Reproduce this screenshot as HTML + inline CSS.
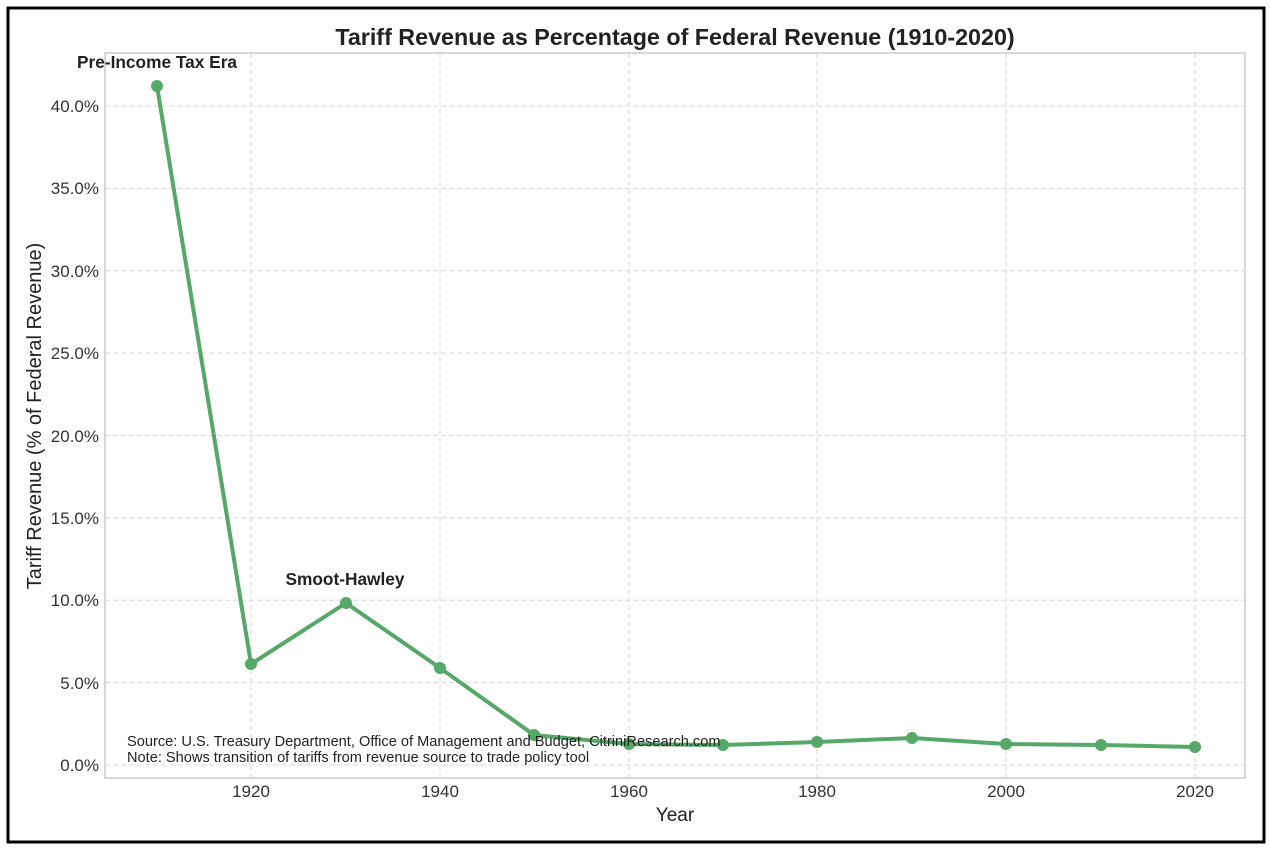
<!DOCTYPE html>
<html><head><meta charset="utf-8"><style>
html,body{margin:0;padding:0;background:#fff;}
svg{display:block;font-family:"Liberation Sans",sans-serif;}
</style></head><body>
<svg width="1271" height="848" viewBox="0 0 1271 848">
<rect x="0" y="0" width="1271" height="848" fill="#fff"/>
<rect x="8" y="8" width="1256" height="834" fill="none" stroke="#000" stroke-width="3"/>
<text x="675" y="45" font-size="23.3" font-weight="bold" text-anchor="middle" fill="#222">Tariff Revenue as Percentage of Federal Revenue (1910-2020)</text>
<g stroke="#d8d8d8" stroke-width="1" stroke-dasharray="5,3">
<line x1="251" y1="53" x2="251" y2="778"/><line x1="440" y1="53" x2="440" y2="778"/><line x1="629" y1="53" x2="629" y2="778"/><line x1="817" y1="53" x2="817" y2="778"/><line x1="1006" y1="53" x2="1006" y2="778"/><line x1="1195" y1="53" x2="1195" y2="778"/>
<line x1="105" y1="765" x2="1245" y2="765"/><line x1="105" y1="682.6" x2="1245" y2="682.6"/><line x1="105" y1="600.3" x2="1245" y2="600.3"/><line x1="105" y1="517.9" x2="1245" y2="517.9"/><line x1="105" y1="435.5" x2="1245" y2="435.5"/><line x1="105" y1="353.1" x2="1245" y2="353.1"/><line x1="105" y1="270.8" x2="1245" y2="270.8"/><line x1="105" y1="188.4" x2="1245" y2="188.4"/><line x1="105" y1="106" x2="1245" y2="106"/>
</g>
<rect x="105" y="53" width="1140" height="725" fill="none" stroke="#ccc" stroke-width="1.5"/>
<g font-size="17" fill="#333" text-anchor="end">
<text x="99" y="771">0.0%</text><text x="99" y="689">5.0%</text><text x="99" y="606">10.0%</text><text x="99" y="524">15.0%</text><text x="99" y="442">20.0%</text><text x="99" y="359">25.0%</text><text x="99" y="277">30.0%</text><text x="99" y="194">35.0%</text><text x="99" y="112">40.0%</text>
</g>
<g font-size="17" fill="#333" text-anchor="middle">
<text x="251" y="797">1920</text><text x="440" y="797">1940</text><text x="629" y="797">1960</text><text x="817" y="797">1980</text><text x="1006" y="797">2000</text><text x="1195" y="797">2020</text>
</g>
<text x="675" y="821" font-size="19" fill="#222" text-anchor="middle">Year</text>
<text transform="translate(41,416) rotate(-90)" font-size="20" fill="#222" text-anchor="middle">Tariff Revenue (% of Federal Revenue)</text>
<polyline fill="none" stroke="#55a868" stroke-width="4" stroke-linejoin="round" points="157,86 251,664 346,603 440,668 534,735 629,744 723,745 817,742 912,738 1006,744 1101,745 1195,747"/>
<g fill="#55a868">
<circle cx="157" cy="86" r="6"/><circle cx="251" cy="664" r="6"/><circle cx="346" cy="603" r="6"/><circle cx="440" cy="668" r="6"/><circle cx="534" cy="735" r="6"/><circle cx="629" cy="744" r="6"/><circle cx="723" cy="745" r="6"/><circle cx="817" cy="742" r="6"/><circle cx="912" cy="738" r="6"/><circle cx="1006" cy="744" r="6"/><circle cx="1101" cy="745" r="6"/><circle cx="1195" cy="747" r="6"/>
</g>
<text x="157" y="68" font-size="17.3" font-weight="bold" fill="#222" text-anchor="middle">Pre-Income Tax Era</text>
<text x="345" y="585" font-size="17.3" font-weight="bold" fill="#222" text-anchor="middle">Smoot-Hawley</text>
<text x="127" y="746" font-size="14.6" fill="#222">Source: U.S. Treasury Department, Office of Management and Budget, CitriniResearch.com</text>
<text x="127" y="762" font-size="14.6" fill="#222">Note: Shows transition of tariffs from revenue source to trade policy tool</text>
</svg>
</body></html>
